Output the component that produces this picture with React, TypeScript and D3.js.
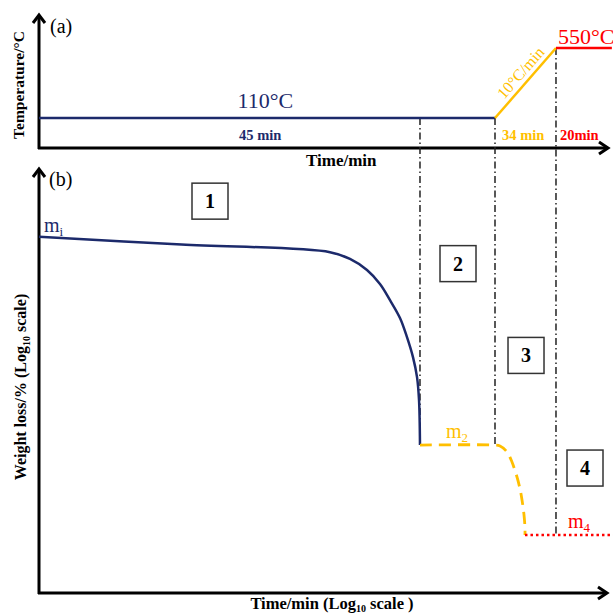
import React from "react";
import * as d3 from "d3";

// ---- data (schematic units) ----
const stageBounds = [66.84, 80, 90.7]; // time positions of stage boundaries
const tempTimes = [0, 80, 90.7, 100.5];
const tempValues = [110, 110, 550, 550];

const stage1Times = [0, 25, 51.05, 54.56, 57.54, 59.82, 61.58, 63.33, 64.56, 65.61, 66.32, 66.67, 66.84];
const stage1Weights = [83.8, 82.0, 80.2, 78.6, 76.0, 72.7, 68.9, 64.7, 60.2, 55.5, 50.8, 45.4, 34.8];

const stage23Times = [66.84, 79.82, 80.88, 82.11, 82.98, 83.86, 84.39, 84.74, 85.09, 85.26, 85.26];
const stage23Weights = [34.8, 34.8, 34.59, 33.18, 30.82, 27.29, 24.47, 21.88, 18.35, 15.29, 13.65];

const stage4Times = [85.26, 100.7];
const stage4Weights = [13.65, 13.65];

const boxLabels = ["1", "2", "3", "4"];
const boxTimes = [30.0, 73.51, 85.44, 95.79];
const boxWeights = [92.2, 77.5, 55.9, 29.4];

const NAVY = "#1c2a6b";
const ORANGE = "#ffbf00";
const RED = "#ff0000";
const SERIF = "'Liberation Serif', 'Times New Roman', serif";

export default function App() {
  const x = d3.scaleLinear().domain([0, 100]).range([39, 609]);
  const yT = d3.scaleLinear().domain([110, 550]).range([118, 48]);
  const yW = d3.scaleLinear().domain([0, 100]).range([593, 168]);

  const lineT = d3
    .line<number>()
    .x((i) => x(tempTimes[i]))
    .y((i) => yT(tempValues[i]));

  const mkW = (ts: number[], ws: number[], curve: any) =>
    d3
      .line<number>()
      .x((i) => x(ts[i]))
      .y((i) => yW(ws[i]))
      .curve(curve)(d3.range(ts.length)) as string;

  const s1 = mkW(stage1Times, stage1Weights, d3.curveCatmullRom.alpha(0.5));
  const s23 = mkW(stage23Times, stage23Weights, d3.curveCatmullRom.alpha(0.5));
  const s4 = mkW(stage4Times, stage4Weights, d3.curveLinear);

  const m2 = stage23Weights[0];
  const m4 = stage4Weights[0];
  const dashDot = "7 3 1.5 3";

  // ramp geometry for rotated label
  const rx1 = x(tempTimes[1]), ry1 = yT(tempValues[1]);
  const rx2 = x(tempTimes[2]), ry2 = yT(tempValues[2]);
  const ang = (Math.atan2(ry2 - ry1, rx2 - rx1) * 180) / Math.PI;
  const rmx = rx1 + (rx2 - rx1) * 0.55, rmy = ry1 + (ry2 - ry1) * 0.55;

  const axisW = 3;
  const arrowUp = (ax: number, ay: number) => `M${ax - 6},${ay + 8} L${ax},${ay} L${ax + 6},${ay + 8}`;
  const arrowRight = (ax: number, ay: number) => `M${ax - 9},${ay - 6} L${ax},${ay} L${ax - 9},${ay + 6}`;

  return (
    <svg
      width={613}
      height={615}
      style={{ position: "absolute", left: 0, top: 0, background: "#fff" }}
      fontFamily={SERIF}
    >
      <rect width={613} height={615} fill="#fff" />
      {/* ---------- panel (a) ---------- */}
      <line x1={39} y1={149} x2={39} y2={16} stroke="#000" strokeWidth={axisW} />
      <line x1={38} y1={148} x2={607} y2={148} stroke="#000" strokeWidth={axisW} />
      <path d={arrowUp(39, 15)} fill="none" stroke="#000" strokeWidth={axisW} />
      <path d={arrowRight(608, 148)} fill="none" stroke="#000" strokeWidth={axisW} />
      <text x={50} y={33} fontSize={20}>(a)</text>
      <text
        transform={`translate(24,85) rotate(-90)`}
        textAnchor="middle"
        fontSize={15.5}
        fontWeight="bold"
      >
        Temperature/°C
      </text>
      <text x={306} y={166} fontSize={17} fontWeight="bold">
        Time/min
      </text>

      {/* dash-dot stage boundaries */}
      <line x1={x(stageBounds[0])} y1={yT(110)} x2={x(stageBounds[0])} y2={yW(m2)} stroke="#222" strokeWidth={1.5} strokeDasharray={dashDot} />
      <line x1={x(stageBounds[1])} y1={yT(110)} x2={x(stageBounds[1])} y2={yW(m2)} stroke="#222" strokeWidth={1.5} strokeDasharray={dashDot} />
      <line x1={x(stageBounds[2])} y1={yT(550)} x2={x(stageBounds[2])} y2={yW(m4)} stroke="#222" strokeWidth={1.5} strokeDasharray={dashDot} />

      <path d={lineT([0, 1]) as string} fill="none" stroke={NAVY} strokeWidth={2.5} />
      <path d={lineT([1, 2]) as string} fill="none" stroke={ORANGE} strokeWidth={2.5} />
      <path d={lineT([2, 3]) as string} fill="none" stroke={RED} strokeWidth={2.5} />

      <text x={x(39.7)} y={108} fontSize={22} fill={NAVY} textAnchor="middle">110°C</text>
      <text x={x(38.8)} y={140} fontSize={14.5} fill={NAVY} fontWeight="bold" textAnchor="middle">45 min</text>
      <text x={558} y={44} fontSize={22} fill={RED}>550°C</text>
      <text x={502} y={140} fontSize={14.5} fill={ORANGE} fontWeight="bold">34 min</text>
      <text x={560} y={140} fontSize={14.5} fill={RED} fontWeight="bold">20min</text>
      <text
        transform={`translate(${rmx},${rmy}) rotate(${ang})`}
        textAnchor="middle"
        dy={-5}
        fontSize={16}
        fill={ORANGE}
      >
        10°C/min
      </text>

      {/* ---------- panel (b) ---------- */}
      <line x1={39} y1={594} x2={39} y2={170} stroke="#000" strokeWidth={axisW} />
      <line x1={38} y1={593} x2={606} y2={593} stroke="#000" strokeWidth={axisW} />
      <path d={arrowUp(39, 169)} fill="none" stroke="#000" strokeWidth={axisW} />
      <path d={arrowRight(607, 593)} fill="none" stroke="#000" strokeWidth={axisW} />
      <text x={49} y={186} fontSize={20}>(b)</text>
      <text
        transform={`translate(26,387) rotate(-90)`}
        textAnchor="middle"
        fontSize={16}
        fontWeight="bold"
      >
        Weight loss/% (Log
        <tspan fontSize={10} dy={4}>10</tspan>
        <tspan dy={-4}> scale)</tspan>
      </text>
      <text x={332} y={609} textAnchor="middle" fontSize={16.5} fontWeight="bold">
        Time/min (Log
        <tspan fontSize={10} dy={3}>10</tspan>
        <tspan dy={-3}> scale )</tspan>
      </text>

      <path d={s1} fill="none" stroke={NAVY} strokeWidth={2.5} />
      <path d={s23} fill="none" stroke={ORANGE} strokeWidth={2.8} strokeDasharray="12 7" />
      <path d={s4} fill="none" stroke={RED} strokeWidth={2.5} strokeDasharray="2.5 3" />

      <text x={44} y={232} fontSize={20} fill={NAVY}>
        m<tspan fontSize={13} dy={4}>i</tspan>
      </text>
      <text x={446} y={438} fontSize={20} fill={ORANGE}>
        m<tspan fontSize={13} dy={4}>2</tspan>
      </text>
      <text x={568} y={528} fontSize={20} fill={RED}>
        m<tspan fontSize={13} dy={4}>4</tspan>
      </text>

      {boxLabels.map((b, i) => {
        const cx = x(boxTimes[i]);
        const cy = yW(boxWeights[i]);
        return (
          <g key={b}>
            <rect x={cx - 18} y={cy - 18} width={36} height={36} fill="#fff" stroke="#333" strokeWidth={1.5} />
            <text x={cx} y={cy + 7} textAnchor="middle" fontSize={20} fontWeight="bold">{b}</text>
          </g>
        );
      })}
    </svg>
  );
}
